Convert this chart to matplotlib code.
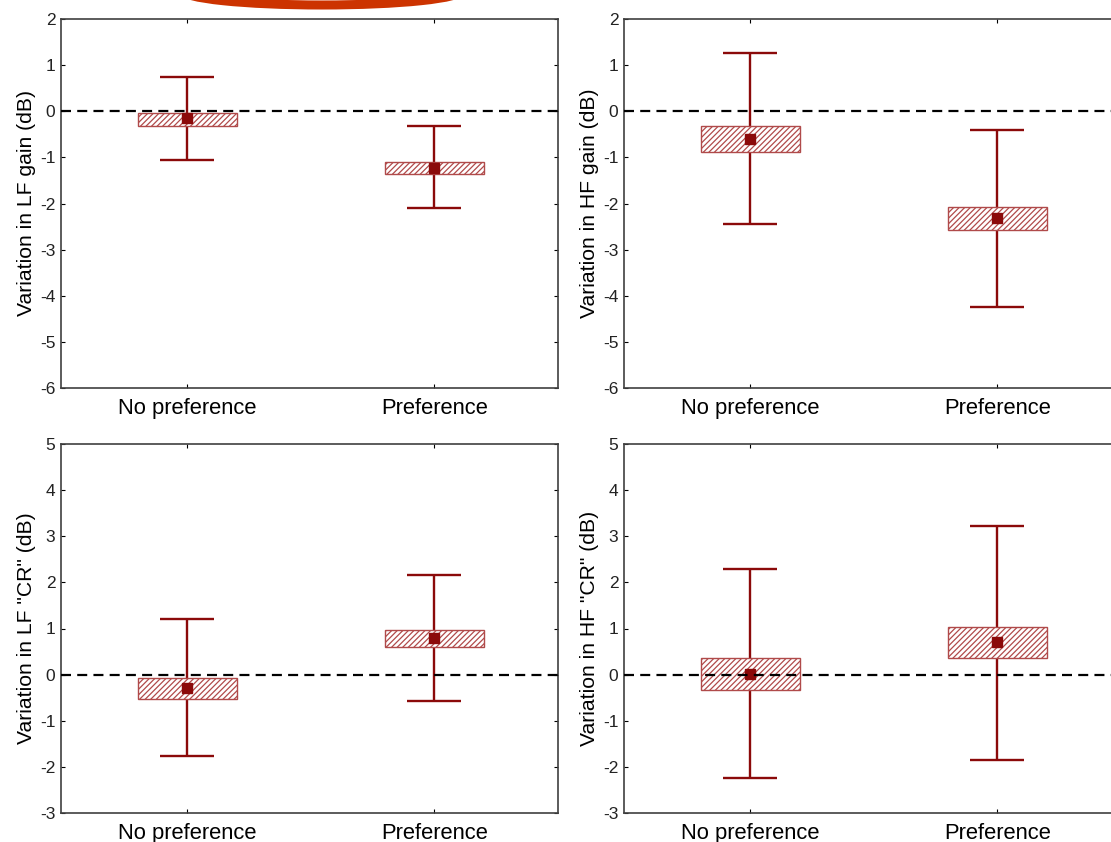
import numpy as np
import matplotlib
matplotlib.use("Agg")
import matplotlib.pyplot as plt
from matplotlib.patches import Ellipse

plt.rcParams['font.family'] = ['Liberation Sans', 'DejaVu Sans']
plt.rcParams['hatch.linewidth'] = 0.9
plt.rcParams['axes.unicode_minus'] = False

groups = ["No preference", "Preference"]

# each panel: mean, box low/high, whisker low/high
lf_gain_mean = [-0.15, -1.22]
lf_gain_box = [(-0.32, -0.03), (-1.37, -1.10)]
lf_gain_whisk = [(-1.05, 0.75), (-2.10, -0.33)]

hf_gain_mean = [-0.60, -2.32]
hf_gain_box = [(-0.88, -0.33), (-2.57, -2.07)]
hf_gain_whisk = [(-2.45, 1.27), (-4.25, -0.40)]

lf_cr_mean = [-0.28, 0.80]
lf_cr_box = [(-0.52, -0.08), (0.60, 0.97)]
lf_cr_whisk = [(-1.77, 1.20), (-0.57, 2.15)]

hf_cr_mean = [0.02, 0.70]
hf_cr_box = [(-0.33, 0.37), (0.35, 1.03)]
hf_cr_whisk = [(-2.25, 2.30), (-1.85, 3.23)]

panels = [
    ("Variation in LF gain (dB)", lf_gain_mean, lf_gain_box, lf_gain_whisk, (-6, 2)),
    ("Variation in HF gain (dB)", hf_gain_mean, hf_gain_box, hf_gain_whisk, (-6, 2)),
    ('Variation in LF "CR" (dB)', lf_cr_mean, lf_cr_box, lf_cr_whisk, (-3, 5)),
    ('Variation in HF "CR" (dB)', hf_cr_mean, hf_cr_box, hf_cr_whisk, (-3, 5)),
]

W, H = 1111, 842
fig = plt.figure(figsize=(W / 100, H / 100), dpi=100)

dark = "#8b0a0a"
hatchc = "#b04a4a"

# axes rectangles in pixels (left, top, width, height)
rects = [(61, 19, 497, 369), (624, 19, 497, 369),
         (61, 444, 497, 369), (624, 444, 497, 369)]

for (label, mean, box, whisk, ylim), (l, t, w, h) in zip(panels, rects):
    ax = fig.add_axes([l / W, 1 - (t + h) / H, w / W, h / H])
    x = np.arange(1, len(groups) + 1)
    lo = np.array([b[0] for b in box])
    hi = np.array([b[1] for b in box])
    ax.bar(x, hi - lo, bottom=lo, width=0.4, facecolor="white",
           edgecolor=hatchc, hatch="//////", linewidth=1.0, zorder=2)
    wl = np.array([v[0] for v in whisk])
    wh = np.array([v[1] for v in whisk])
    m = np.array(mean)
    ax.errorbar(x, m, yerr=[m - wl, wh - m], fmt="none", ecolor=dark,
                elinewidth=1.7, capsize=19.5, capthick=1.7, zorder=1)
    ax.plot(x, m, "s", color=dark, markersize=6.5, zorder=3)
    ax.axhline(0, color="black", linestyle=(0, (4.5, 2.8)), linewidth=1.6, zorder=4)
    ax.set_xlim(0.49, 2.5)
    ax.set_ylim(*ylim)
    ax.set_yticks(np.arange(ylim[0], ylim[1] + 1, 1))
    ax.set_xticks(x)
    ax.set_xticklabels(groups, fontsize=15.8)
    ax.tick_params(axis="y", labelsize=12.5, labelcolor="#222222", direction="in",
                   length=3, right=True, pad=4)
    ax.tick_params(axis="x", direction="in", length=3, top=True, pad=7)
    ax.set_ylabel(label, fontsize=15.2, labelpad=3)
    for s in ax.spines.values():
        s.set_color("#404040")
        s.set_linewidth(1.2)

# decorative arc cut off at the top edge
arc = Ellipse((322 / W, 1 + 9.7 / H), 280 / W, 29.4 / H, transform=fig.transFigure,
              fill=False, edgecolor="#cc3300", linewidth=6.5, clip_on=False)
fig.patches.append(arc)

fig.savefig("out.png", dpi=100)
